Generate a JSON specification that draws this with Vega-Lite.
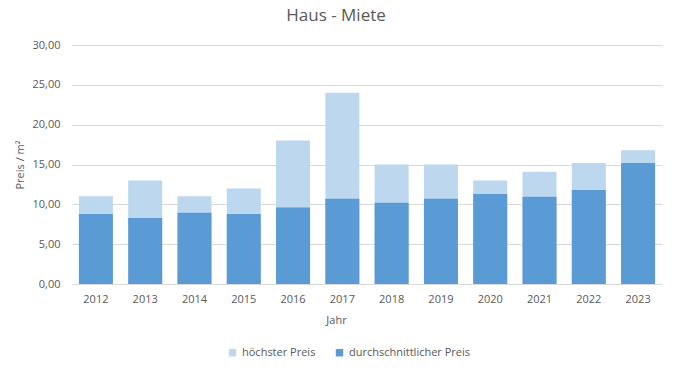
{
  "$schema": "https://vega.github.io/schema/vega-lite/v6.json",
  "autosize": {"type": "none"},
  "width": 590,
  "height": 239,
  "padding": {"left": 72, "top": 45, "right": 11, "bottom": 87},
  "background": "white",
  "title": {
    "text": "Haus - Miete",
    "fontSize": 17,
    "font": "Open Sans",
    "fontWeight": "normal",
    "color": "#595959",
    "anchor": "middle",
    "dx": -31,
    "offset": 14
  },
  "data": {
    "values": [
      {"Jahr": "2012", "Serie": "höchster Preis", "Wert": 11.0},
      {"Jahr": "2013", "Serie": "höchster Preis", "Wert": 13.0},
      {"Jahr": "2014", "Serie": "höchster Preis", "Wert": 11.0},
      {"Jahr": "2015", "Serie": "höchster Preis", "Wert": 12.0},
      {"Jahr": "2016", "Serie": "höchster Preis", "Wert": 18.0},
      {"Jahr": "2017", "Serie": "höchster Preis", "Wert": 24.0},
      {"Jahr": "2018", "Serie": "höchster Preis", "Wert": 15.0},
      {"Jahr": "2019", "Serie": "höchster Preis", "Wert": 15.0},
      {"Jahr": "2020", "Serie": "höchster Preis", "Wert": 13.0},
      {"Jahr": "2021", "Serie": "höchster Preis", "Wert": 14.1},
      {"Jahr": "2022", "Serie": "höchster Preis", "Wert": 15.2},
      {"Jahr": "2023", "Serie": "höchster Preis", "Wert": 16.8},
      {"Jahr": "2012", "Serie": "durchschnittlicher Preis", "Wert": 8.8},
      {"Jahr": "2013", "Serie": "durchschnittlicher Preis", "Wert": 8.3},
      {"Jahr": "2014", "Serie": "durchschnittlicher Preis", "Wert": 8.95},
      {"Jahr": "2015", "Serie": "durchschnittlicher Preis", "Wert": 8.8},
      {"Jahr": "2016", "Serie": "durchschnittlicher Preis", "Wert": 9.6},
      {"Jahr": "2017", "Serie": "durchschnittlicher Preis", "Wert": 10.7},
      {"Jahr": "2018", "Serie": "durchschnittlicher Preis", "Wert": 10.2},
      {"Jahr": "2019", "Serie": "durchschnittlicher Preis", "Wert": 10.7},
      {"Jahr": "2020", "Serie": "durchschnittlicher Preis", "Wert": 11.3},
      {"Jahr": "2021", "Serie": "durchschnittlicher Preis", "Wert": 10.95},
      {"Jahr": "2022", "Serie": "durchschnittlicher Preis", "Wert": 11.8},
      {"Jahr": "2023", "Serie": "durchschnittlicher Preis", "Wert": 15.2}
    ]
  },
  "mark": {"type": "bar"},
  "encoding": {
    "x": {
      "field": "Jahr",
      "type": "nominal",
      "sort": null,
      "scale": {"paddingInner": 0.31, "paddingOuter": 0.14},
      "axis": {
        "title": "Jahr",
        "labelAngle": 0,
        "domain": false,
        "ticks": false,
        "labelPadding": 9,
        "titlePadding": 10,
        "titleX": 264,
        "labelFontSize": 11,
        "titleFontSize": 11,
        "titleFontWeight": "normal"
      }
    },
    "y": {
      "field": "Wert",
      "type": "quantitative",
      "stack": null,
      "scale": {"domain": [0, 30]},
      "axis": {
        "title": "Preis / m²",
        "values": [0, 5, 10, 15, 20, 25, 30],
        "labelOverlap": false,
        "labelExpr": "replace(format(datum.value, '.2f'), '.', ',')",
        "domain": false,
        "ticks": false,
        "labelPadding": 12,
        "titlePadding": 6,
        "labelFontSize": 11,
        "titleFontSize": 11,
        "titleFontWeight": "normal",
        "gridColor": "#d9d9d9"
      }
    },
    "color": {
      "field": "Serie",
      "type": "nominal",
      "scale": {
        "domain": ["höchster Preis", "durchschnittlicher Preis"],
        "range": ["#BDD7EE", "#5B9BD5"]
      },
      "legend": {
        "title": null,
        "orient": "none",
        "direction": "horizontal",
        "legendX": 155,
        "legendY": 302,
        "symbolType": "square",
        "symbolSize": 55,
        "symbolStrokeWidth": 0,
        "labelFontSize": 11,
        "columnPadding": 18,
        "labelOffset": 4
      }
    }
  },
  "config": {
    "view": {"stroke": null},
    "font": "Open Sans",
    "axis": {"labelColor": "#595959", "titleColor": "#595959", "labelFont": "Open Sans", "titleFont": "Open Sans"},
    "legend": {"labelColor": "#595959", "labelFont": "Open Sans"}
  }
}
